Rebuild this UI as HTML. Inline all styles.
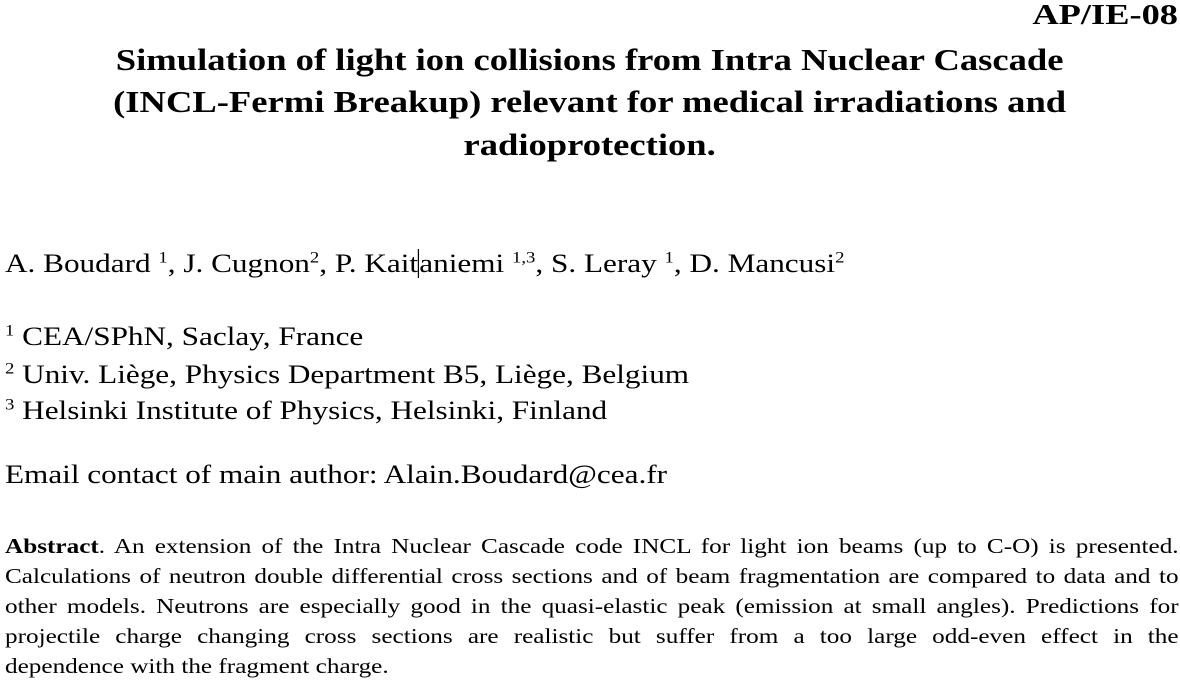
<!DOCTYPE html>
<html><head><meta charset="utf-8"><style>
html,body{margin:0;padding:0;background:#fff;}
body{width:1180px;height:682px;position:relative;overflow:hidden;font-family:"Liberation Serif",serif;color:#000;}
.l{position:absolute;white-space:nowrap;line-height:1;}
.t{font-weight:bold;font-size:31px;left:0;width:1180px;text-align:center;transform:scaleX(1.18);transform-origin:592px 0;}
.b{font-size:26px;left:5px;transform:scaleX(1.2);transform-origin:0 0;}
sup{font-size:60%;vertical-align:0.6em;line-height:0;}
.a{font-size:21px;left:5px;width:978px;text-align:justify;text-align-last:justify;transform:scaleX(1.2);transform-origin:0 0;}
.last{text-align-last:left;}
</style></head><body>
<div class="l" style="right:2px;top:2px;font-weight:bold;font-size:28px;transform:scaleX(1.3);transform-origin:100% 0;">AP/IE-08</div>
<div class="l t" style="top:44px;">Simulation of light ion collisions from Intra Nuclear Cascade</div>
<div class="l t" style="top:86px;">(INCL-Fermi Breakup) relevant for medical irradiations and</div>
<div class="l t" style="top:129px;">radioprotection.</div>
<div class="l b" style="top:251px;">A. Boudard <sup>1</sup>, J. Cugnon<sup>2</sup>, P. Kait<span style="border-left:1px solid #000;"></span>aniemi <sup>1,3</sup>, S. Leray <sup>1</sup>, D. Mancusi<sup>2</sup></div>
<div class="l b" style="top:324px;"><sup>1</sup> CEA/SPhN, Saclay, France</div>
<div class="l b" style="top:362px;"><sup>2</sup> Univ. Liège, Physics Department B5, Liège, Belgium</div>
<div class="l b" style="top:398px;"><sup>3</sup> Helsinki Institute of Physics, Helsinki, Finland</div>
<div class="l b" style="top:462px;">Email contact of main author: Alain.Boudard@cea.fr</div>
<div class="l a" style="top:536px;"><b>Abstract</b>. An extension of the Intra Nuclear Cascade code INCL for light ion beams (up to C-O) is presented.</div>
<div class="l a" style="top:566px;">Calculations of neutron double differential cross sections and of beam fragmentation are compared to data and to</div>
<div class="l a" style="top:596px;">other models. Neutrons are especially good in the quasi-elastic peak (emission at small angles). Predictions for</div>
<div class="l a" style="top:626px;">projectile charge changing cross sections are realistic but suffer from a too large odd-even effect in the</div>
<div class="l a last" style="top:656px;">dependence with the fragment charge.</div>
</body></html>
